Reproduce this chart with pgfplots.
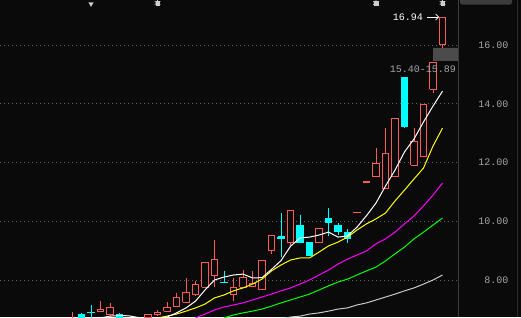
\documentclass[border=0pt]{standalone}
\usepackage{pgfplots}
\usepackage{pgfplotstable}
\pgfplotsset{compat=1.18}
\usetikzlibrary{arrows.meta}
\usepackage{fontspec}
\setmonofont{Liberation Mono}
\definecolor{bgc}{RGB}{10,10,10}
\definecolor{gridc}{RGB}{95,95,95}
\definecolor{labc}{RGB}{165,165,165}
\definecolor{cup}{RGB}{255,90,90}
\definecolor{cdn}{RGB}{0,255,255}
\definecolor{maw}{RGB}{255,255,255}
\definecolor{may}{RGB}{255,255,0}
\definecolor{mam}{RGB}{255,0,255}
\definecolor{mag}{RGB}{0,255,0}
\definecolor{mas}{RGB}{200,200,200}
\definecolor{glyph}{RGB}{205,205,205}
\definecolor{gapc}{RGB}{75,75,75}
\definecolor{sepc}{RGB}{60,60,60}

\pgfplotstableread{
i u o h l c
0 1 6.55 6.91 6.45 6.70
1 0 6.81 6.87 6.55 6.60
2 0 6.90 7.15 6.65 6.88
3 1 6.94 7.28 6.90 7.01
4 1 6.81 7.22 6.78 7.08
5 0 6.84 6.88 6.60 6.65
6 0 6.70 6.72 6.55 6.60
7 1 6.55 6.72 6.50 6.68
8 1 6.72 6.81 6.65 6.81
9 1 6.81 6.98 6.78 6.91
10 1 6.94 7.25 6.90 7.08
11 1 7.11 7.56 7.10 7.42
12 1 7.25 8.07 7.22 7.56
13 1 7.49 7.97 7.46 7.83
14 1 7.76 8.61 7.74 8.61
15 1 8.14 9.36 7.76 8.71
16 0 7.92 8.31 7.89 7.90
17 1 7.52 8.07 7.30 7.76
18 1 7.76 8.34 7.76 8.10
19 1 7.79 8.31 7.79 7.87
20 1 7.66 8.65 7.66 8.65
21 1 8.99 9.50 8.89 9.50
22 0 9.47 10.28 8.78 9.41
23 1 9.26 10.35 9.16 10.35
24 0 9.87 10.21 9.29 9.29
25 0 9.29 9.29 8.80 8.85
26 1 9.26 9.74 9.26 9.74
27 0 10.08 10.45 9.50 9.95
28 0 9.87 9.95 9.53 9.64
29 0 9.62 9.73 9.27 9.40
30 1 10.30 10.31 10.30 10.31
31 1 11.33 11.34 11.33 11.34
32 1 11.51 12.49 11.51 11.98
33 1 11.10 13.17 11.10 12.29
34 1 11.51 13.51 11.51 13.51
35 0 14.88 14.88 13.17 13.24
36 1 11.91 13.17 11.91 12.73
37 1 12.19 13.99 12.19 13.99
38 1 14.50 15.40 14.35 15.39
39 1 16.00 16.94 15.89 16.94
}\candles

\begin{document}
\begin{tikzpicture}[x=1pt,y=1pt]
\path[use as bounding box] (0,0) rectangle (521,317);
\fill[bgc] (0,0) rectangle (521,317);
\begin{axis}[
  at={(0pt,0pt)}, anchor=south west,
  scale only axis, width=458pt, height=317pt,
  xmin=-7.58, xmax=40.63, ymin=6.74, ymax=17.53,
  axis line style={draw=none},
  xtick=\empty,
  ytick={8,10,12,14,16},
  yticklabels={8.00,10.00,12.00,14.00,16.00},
  yticklabel pos=right,
  major tick length=0pt,
  ymajorgrids,
  grid style={dash pattern=on 1pt off 3pt, color=gridc, line width=0.8pt},
  yticklabel style={font=\ttfamily\fontsize{10}{10}\selectfont, text=labc, anchor=east, xshift=54pt},
  clip=true,
]
% gap zone box
\addplot[fill=gapc, draw=none, forget plot] coordinates {(38.0,15.46) (40.7,15.46) (40.7,15.90) (38.0,15.90) (38.0,15.46)};

\pgfplotsinvokeforeach{0,...,39}{
  \pgfplotstablegetelem{#1}{u}\of\candles \let\cU\pgfplotsretval
  \pgfplotstablegetelem{#1}{o}\of\candles \let\cO\pgfplotsretval
  \pgfplotstablegetelem{#1}{h}\of\candles \let\cH\pgfplotsretval
  \pgfplotstablegetelem{#1}{l}\of\candles \let\cL\pgfplotsretval
  \pgfplotstablegetelem{#1}{c}\of\candles \let\cC\pgfplotsretval
  \pgfmathsetmacro\xl{#1-0.35}
  \pgfmathsetmacro\xr{#1+0.35}
  \ifnum\cU=1 \def\cc{cup}\def\cf{bgc}\else\def\cc{cdn}\def\cf{cdn}\fi
  \edef\cmd{%
    \noexpand\addplot[draw=\cc, line width=1pt, forget plot] coordinates {(#1,\cL) (#1,\cH)};
    \noexpand\addplot[draw=\cc, fill=\cf, line width=1pt, forget plot] coordinates {(\xl,\cO) (\xr,\cO) (\xr,\cC) (\xl,\cC) (\xl,\cO)};
  }\cmd
}

% MA lines
\addplot[mas, line width=1pt] coordinates {
(22,6.67) (23,6.74) (24,6.77) (25,6.84) (26,6.88) (27,6.94) (28,7.01) (29,7.05) (30,7.15)
(31,7.22) (32,7.32) (33,7.42) (34,7.52) (35,7.63) (36,7.73) (37,7.86) (38,8.00) (39,8.17)};
\addplot[mag, line width=1pt] coordinates {
(16,6.71) (17,6.81) (18,6.88) (19,6.94) (20,7.01) (21,7.11) (22,7.22) (23,7.32) (24,7.42)
(25,7.52) (26,7.66) (27,7.80) (28,7.93) (29,8.03) (30,8.17) (31,8.31) (32,8.44) (33,8.65)
(34,8.89) (35,9.12) (36,9.40) (37,9.63) (38,9.87) (39,10.11)};
\addplot[mam, line width=1pt] coordinates {
(13,6.71) (14,6.84) (15,6.98) (16,7.08) (17,7.15) (18,7.22) (19,7.32) (20,7.42) (21,7.52)
(22,7.63) (23,7.73) (24,7.86) (25,8.00) (26,8.17) (27,8.34) (28,8.54) (29,8.71) (30,8.85)
(31,8.99) (32,9.23) (33,9.40) (34,9.63) (35,9.91) (36,10.18) (37,10.52) (38,10.89) (39,11.30)};
\addplot[may, line width=1pt] coordinates {
(9,6.71) (10,6.77) (11,6.84) (12,6.94) (13,7.05) (14,7.18) (15,7.39) (16,7.49) (17,7.63)
(18,7.73) (19,7.86) (20,8.03) (21,8.31) (22,8.51) (23,8.68) (24,8.75) (25,8.75) (26,8.95)
(27,9.16) (28,9.29) (29,9.46) (30,9.70) (31,9.91) (32,10.08) (33,10.28) (34,10.69)
(35,11.06) (36,11.44) (37,11.81) (38,12.56) (39,13.17)};
\addplot[maw, line width=1pt] coordinates {
(3,6.71) (4,6.77) (5,6.79) (6,6.78) (7,6.72) (8,6.68) (9,6.70) (10,6.74) (11,6.88) (12,7.05)
(13,7.28) (14,7.66) (15,8.00) (16,8.10) (17,8.17) (18,8.20) (19,8.07) (20,8.08) (21,8.36)
(22,8.66) (23,9.15) (24,9.43) (25,9.46) (26,9.53) (27,9.63) (28,9.46) (29,9.50) (30,9.80)
(31,10.19) (32,10.62) (33,11.20) (34,11.74) (35,12.36) (36,12.80) (37,13.38) (38,13.92) (39,14.43)};

% top event glyphs
\addplot[only marks, mark=asterisk, mark size=3.2pt, glyph, line width=0.9pt] coordinates {(9,17.43) (32,17.43) (39,17.43)};
\addplot[only marks, mark=square*, mark size=1.8pt, glyph] coordinates {(9,17.43) (32,17.43) (39,17.43)};
\addplot[only marks, mark=triangle*, mark size=2.6pt, glyph, mark options={rotate=180}] coordinates {(2,17.40)};

% annotations
\node[anchor=east, inner sep=0pt, text=white, font=\ttfamily\fontsize{10}{10}\selectfont] at (axis cs:36.95,16.95) {16.94};
\draw[white, line width=0.8pt, -{Straight Barb[length=3pt]}] (axis cs:37.35,16.95) -- (axis cs:38.65,16.95);
\node[anchor=east, inner sep=0pt, text=labc, font=\ttfamily\fontsize{10}{10}\selectfont] at (axis cs:40.42,15.17) {15.40-15.89};
\end{axis}
\draw[sepc, line width=1pt] (458,0) -- (458,317);
\draw[sepc!70!black, line width=1pt] (517,0) -- (517,317);
\fill[sepc, rounded corners=2pt] (460,312.5) rectangle (512,319);
\end{tikzpicture}
\end{document}
